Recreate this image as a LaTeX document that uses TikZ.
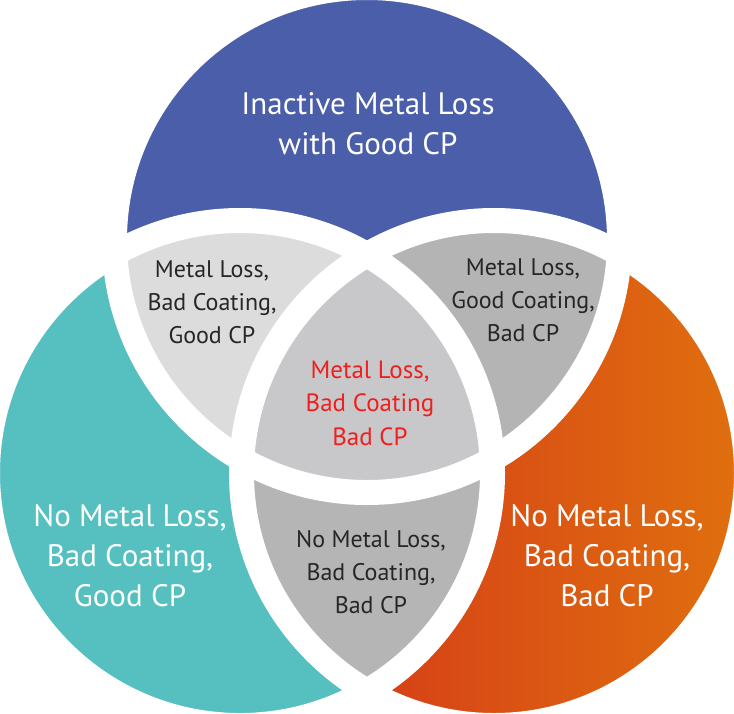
\documentclass[tikz,border=0pt]{standalone}
\usepackage{fontspec}
\setmainfont{PT Sans}
\usetikzlibrary{positioning}
\definecolor{vennblue}{RGB}{74,94,169}
\definecolor{vennteal}{RGB}{86,191,191}
\definecolor{vennred}{RGB}{210,48,26}
\definecolor{vennorange}{RGB}{224,112,14}
\definecolor{grayTL}{RGB}{220,220,220}
\definecolor{grayTR}{RGB}{180,180,180}
\definecolor{grayLR}{RGB}{181,181,181}
\definecolor{grayC}{RGB}{200,200,202}
\definecolor{textred}{RGB}{240,30,30}
\tikzset{
	venn/.style={x=1pt,y=-1pt},
	set/.style={radius=252.5pt},
	gap/.style={draw=white,line width=25pt},
	big text/.style={font=\fontsize{31}{40}\selectfont,text=white,align=center,inner sep=0pt},
	small text/.style={font=\fontsize{24}{33}\selectfont,text=black!85,align=center,inner sep=0pt},
	mid text/.style={font=\fontsize{25}{33.5}\selectfont,text=textred,align=center,inner sep=0pt}
}
\begin{document}
\begin{tikzpicture}[venn]
	\useasboundingbox (0,0) rectangle (734,713);
	\coordinate (cT) at (367,240);
	\coordinate (cL) at (240,473);
	\coordinate (cR) at (494,473);
	% single sets
	\fill[vennblue] (cT) circle[set];
	\fill[vennteal] (cL) circle[set];
	\shade[left color=vennred,right color=vennorange] (cR) circle[set];
	% pairwise overlaps
	\begin{scope}
		\clip (cT) circle[set];
		\fill[grayTL] (cL) circle[set];
		\fill[grayTR] (cR) circle[set];
	\end{scope}
	\begin{scope}
		\clip (cL) circle[set];
		\fill[grayLR] (cR) circle[set];
		\clip (cT) circle[set];
		\fill[grayC] (cR) circle[set];
	\end{scope}
	% white gaps
	\foreach \c in {cT,cL,cR}
		\draw[gap] (\c) circle[set];
	% labels
	\node[big text] (inactive) at (368,124) {Inactive Metal Loss\\with Good CP};
	\node[small text] (tl) at (212,302) {Metal Loss,\\Bad Coating,\\Good CP};
	\node[small text] (tr) at (523,300) {Metal Loss,\\Good Coating,\\Bad CP};
	\node[mid text] (all) at (370,403) {Metal Loss,\\Bad Coating\\Bad CP};
	\node[small text] (lr) at (371,572) {No Metal Loss,\\Bad Coating,\\Bad CP};
	\node[big text] (left set) at (130,556) {No Metal Loss,\\Bad Coating,\\Good CP};
	\node[big text] (right set) at (607,556) {No Metal Loss,\\Bad Coating,\\Bad CP};
\end{tikzpicture}
\end{document}
